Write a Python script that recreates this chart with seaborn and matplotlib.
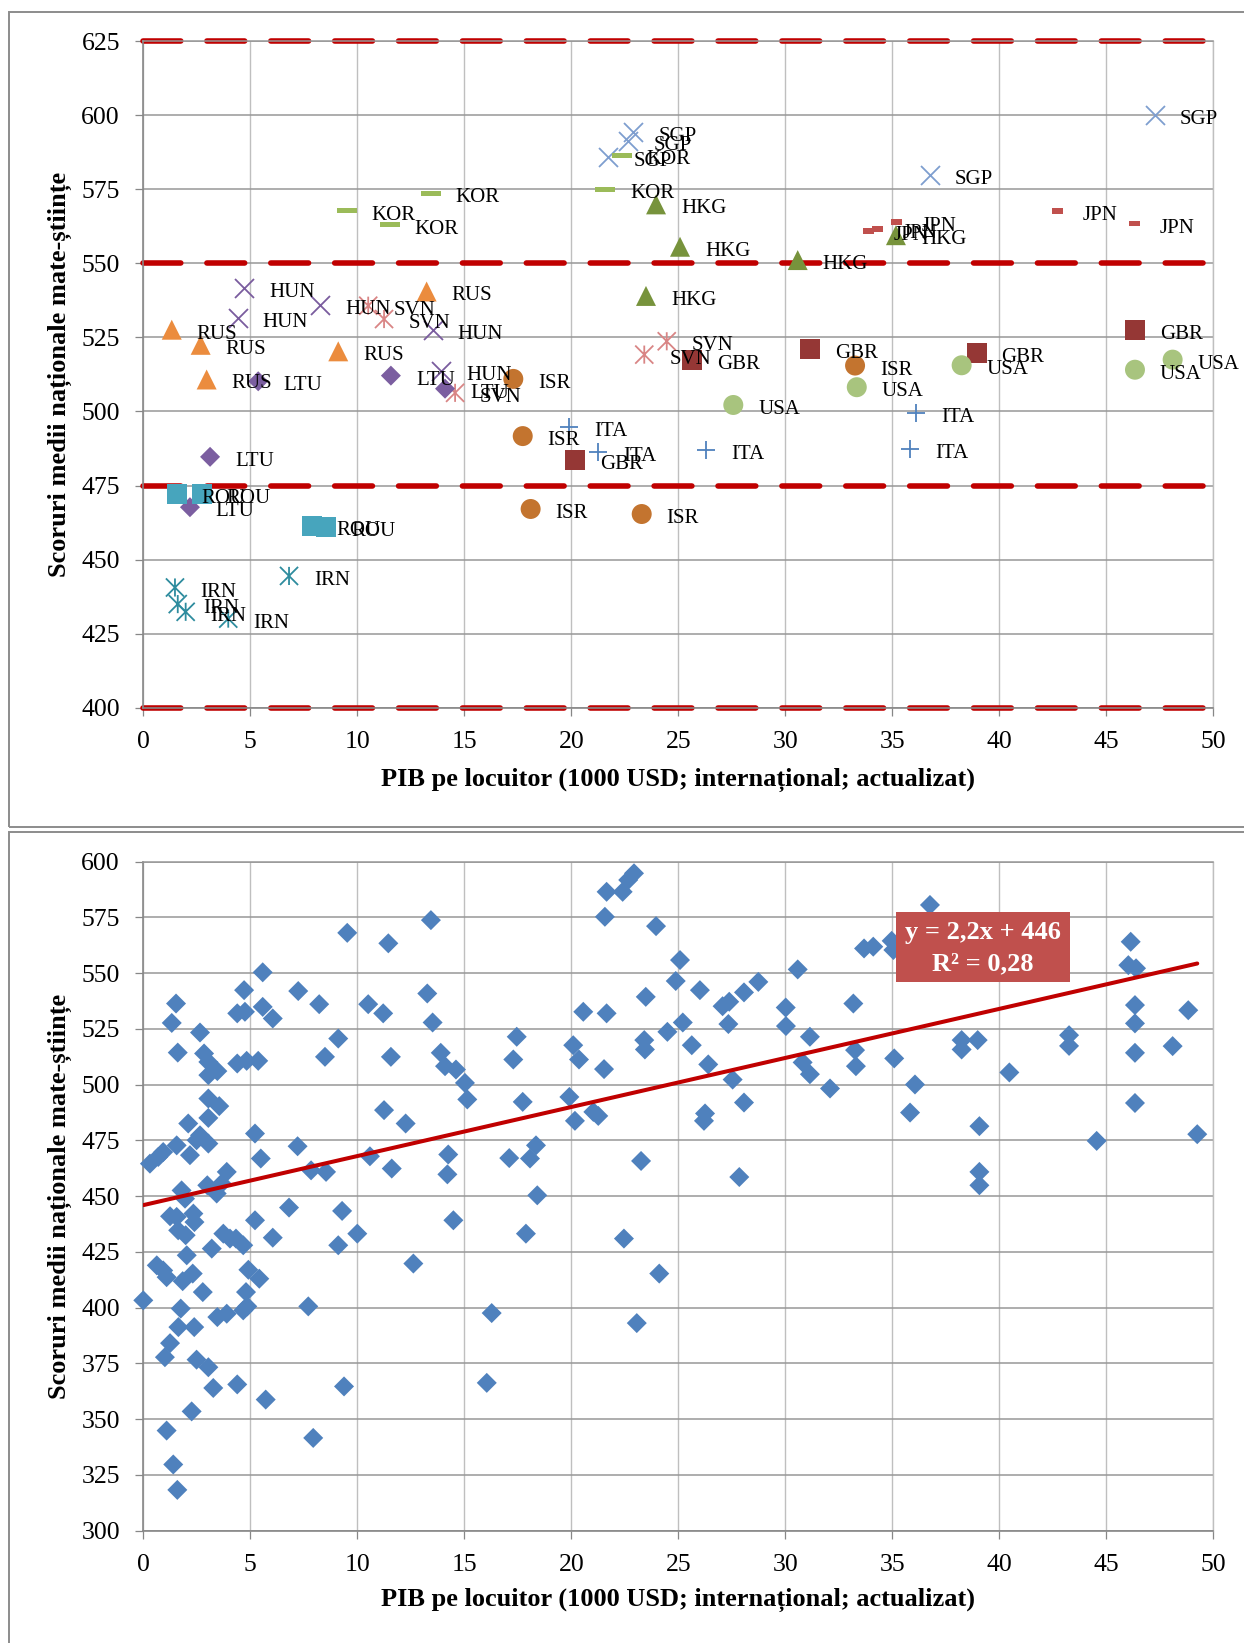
import numpy as np
import matplotlib
matplotlib.use("Agg")
import matplotlib.pyplot as plt
from matplotlib.path import Path
from matplotlib.markers import MarkerStyle
from matplotlib.patches import Rectangle
import seaborn as sns

# ---------------- DATA ----------------
x_ticks = [0, 5, 10, 15, 20, 25, 30, 35, 40, 45, 50]
top_y_ticks = [400, 425, 450, 475, 500, 525, 550, 575, 600, 625]
bottom_y_ticks = [300, 325, 350, 375, 400, 425, 450, 475, 500, 525, 550, 575, 600]
benchmark_levels = [625, 550, 475, 400]

x_label = "PIB pe locuitor (1000 USD; internațional; actualizat)"
y_label = "Scoruri medii naționale mate-științe"

HUN_x = [4.72, 4.41, 8.26, 13.52, 13.91]
HUN_y = [541.8, 531.5, 535.8, 527.6, 513.6]
SVN_x = [10.51, 11.25, 14.57, 23.41, 24.46]
SVN_y = [535.7, 531.2, 506.3, 519.2, 523.7]
RUS_x = [1.33, 2.68, 2.96, 9.11, 13.24]
RUS_y = [527.6, 522.5, 510.8, 520.3, 540.5]
LTU_x = [5.37, 11.57, 14.10, 3.12, 2.18]
LTU_y = [510.2, 512.1, 507.7, 484.7, 467.7]
ROU_x = [1.56, 2.73, 7.87, 8.54]
ROU_y = [472.1, 472.1, 461.3, 461.0]
IRN_x = [1.48, 1.61, 1.98, 3.97, 6.81]
IRN_y = [440.6, 435.0, 432.4, 430.1, 444.5]
SGP_x = [22.90, 22.66, 21.73, 36.76, 47.28]
SGP_y = [594.2, 591.4, 585.8, 579.7, 600.0]
KOR_x = [22.35, 21.57, 9.51, 11.52, 13.43]
KOR_y = [586.4, 575.0, 567.7, 563.1, 573.7]
HKG_x = [23.96, 25.08, 30.58, 23.49, 35.17]
HKG_y = [569.9, 555.6, 551.1, 539.0, 559.5]
JPN_x = [33.88, 34.30, 35.21, 42.73, 46.34]
JPN_y = [561.0, 561.6, 563.9, 567.6, 563.4]
GBR_x = [25.63, 31.15, 20.17, 38.94, 46.34]
GBR_y = [517.3, 521.1, 483.7, 519.8, 527.4]
ISR_x = [17.29, 17.73, 18.10, 23.29, 33.26]
ISR_y = [511.0, 491.7, 467.1, 465.4, 515.5]
USA_x = [27.57, 33.34, 38.24, 46.34, 48.10]
USA_y = [502.2, 508.2, 515.6, 514.1, 517.5]
ITA_x = [19.91, 21.26, 26.29, 36.11, 35.83]
ITA_y = [494.6, 486.2, 487.0, 499.6, 487.3]

all_x = [9.53, 11.45, 13.44, 5.58, 4.71, 1.53, 1.33, 2.65, 1.61, 2.84, 3.04, 3.46, 3.04,
         4.39, 4.75, 5.58, 6.05, 4.39, 4.83, 5.37, 7.24, 8.22, 9.11, 8.49, 10.51, 11.21,
         11.57, 13.27, 13.52, 13.90, 14.10, 14.61, 15.03, 15.14, 17.45, 17.29, 17.73, 3.04,
         3.55, 3.04, 2.10, 2.65, 1.56, 2.18, 0.93, 0.31, 0.70, 3.04, 2.49, 5.22, 5.49, 7.21,
         7.84, 8.54, 10.59, 11.61, 11.25, 12.26, 14.25, 14.21, 17.10, 18.07, 18.35, 18.41,
         14.49, 17.88, 1.79, 1.95, 2.99, 3.43, 3.90, 3.66, 5.22, 6.81, 9.29, 10.00, 9.11,
         6.05, 1.56, 2.34, 2.39, 1.63, 1.98, 3.74, 4.33, 4.67, 3.20, 1.25, 4.05,
         2.03, 0.63, 1.09, 1.84, 2.31, 0.93, 2.78, 0.0, 1.75, 1.64, 2.38, 1.25, 1.01, 2.49,
         3.04, 3.27, 4.39, 5.72, 2.26, 1.09, 1.40, 1.59, 7.94, 9.38, 16.05, 12.62, 7.71,
         16.28, 4.91, 5.42, 4.80, 3.46, 3.90, 4.67, 4.86,
         21.65, 22.40, 22.66, 22.93, 21.57, 23.96, 25.08, 24.88, 23.48, 26.01, 20.56, 21.65,
         27.07, 27.38, 28.07, 28.74, 27.34, 30.58, 30.02, 30.03, 31.15, 33.18, 33.68, 34.11,
         34.97, 35.05, 20.09, 20.36, 21.53, 23.41, 23.44, 24.49, 25.21, 25.63, 26.40, 27.54,
         30.81, 31.15, 32.09, 33.26, 33.30, 35.09, 19.91, 20.17, 21.03, 21.26, 26.25, 26.20,
         28.07, 23.26, 27.85, 22.46, 24.11, 23.06,
         36.76, 38.24, 38.24, 38.99, 36.06, 35.83, 40.47, 39.07, 39.07, 39.07, 43.26, 43.26,
         44.55, 46.14, 46.03, 46.39, 46.34, 46.34, 46.34, 46.34, 48.10, 48.83, 49.25]
all_y = [568.1, 563.4, 573.8, 550.4, 542.4, 536.4, 527.7, 523.4, 514.4, 514.0, 510.2, 506.1, 504.3,
         532.0, 532.7, 534.9, 529.7, 509.5, 510.7, 510.7, 542.0, 536.1, 520.7, 512.5, 536.1, 532.0,
         512.5, 540.9, 527.9, 514.3, 508.3, 506.8, 500.8, 493.4, 521.5, 511.3, 492.3, 493.8,
         490.4, 485.1, 482.6, 477.3, 472.8, 468.4, 469.8, 464.6, 467.6, 473.6, 475.1, 478.1, 466.9, 472.4,
         461.6, 460.9, 467.9, 462.4, 488.6, 482.6, 468.7, 459.8, 467.1, 466.9, 472.8, 450.4,
         439.2, 433.2, 452.6, 448.9, 454.9, 451.2, 460.9, 455.7, 439.2, 444.9, 443.4, 433.2, 428.0,
         431.4, 440.7, 442.2, 438.4, 434.7, 432.5, 433.2, 431.0, 428.0, 426.5, 441.0, 431.0,
         423.5, 419.0, 413.7, 411.9, 415.3, 416.7, 407.0, 403.3, 399.6, 391.3, 391.3, 384.1, 377.8, 376.7,
         373.3, 364.0, 365.6, 358.8, 353.5, 344.9, 329.7, 318.3, 341.6, 364.7, 366.3, 419.8, 400.6,
         397.6, 417.0, 413.0, 407.0, 395.8, 397.3, 398.8, 400.6,
         586.5, 586.5, 591.8, 594.8, 575.3, 571.1, 555.9, 546.5, 539.4, 542.4, 532.7, 532.0,
         535.2, 537.2, 541.4, 546.1, 527.2, 551.7, 534.6, 526.3, 521.5, 536.4, 561.1, 561.9,
         564.5, 560.4, 517.7, 511.3, 507.0, 520.0, 515.8, 523.7, 527.9, 517.7, 509.1, 502.3,
         510.0, 504.7, 498.3, 515.5, 508.3, 511.8, 494.5, 483.8, 487.8, 486.0, 487.1, 483.8,
         492.0, 465.8, 458.6, 431.0, 415.3, 393.1,
         580.6, 520.0, 515.8, 520.0, 500.1, 487.5, 505.5, 481.4, 460.9, 454.9, 522.2, 517.4,
         474.8, 564.1, 553.6, 552.2, 535.7, 527.5, 514.3, 491.8, 517.3, 533.4, 477.8]

trend_slope = 2.2
trend_intercept = 446
trend_eq = "y = 2,2x + 446"
trend_r2 = "R² = 0,28"

# ---------------- STYLE ----------------
sns.set_theme(style="white")
plt.rcParams['font.family'] = ['Liberation Serif', 'DejaVu Serif']

MOVETO, LINETO = Path.MOVETO, Path.LINETO
asterisk = MarkerStyle(Path([(-1, -1), (1, 1), (-1, 1), (1, -1), (0, -1), (0, 1)],
                            [MOVETO, LINETO, MOVETO, LINETO, MOVETO, LINETO]), fillstyle='none')
long_dash = Path([(-1, -0.25), (1, -0.25), (1, 0.25), (-1, 0.25), (-1, -0.25)],
                 [MOVETO, LINETO, LINETO, LINETO, Path.CLOSEPOLY])
short_dash = Path([(-1, -0.5), (1, -0.5), (1, 0.5), (-1, 0.5), (-1, -0.5)],
                  [MOVETO, LINETO, LINETO, LINETO, Path.CLOSEPOLY])

line_kw = dict(linewidth=1.3)
fill_kw = dict(linewidth=0, edgecolor='none')
series = [
    ("HUN", HUN_x, HUN_y, dict(marker='x', color='#7A5C9E', s=187, **line_kw)),
    ("SVN", SVN_x, SVN_y, dict(marker=asterisk, color='#D98585', s=170, **line_kw)),
    ("RUS", RUS_x, RUS_y, dict(marker='^', color='#EB8C3E', s=207, **fill_kw)),
    ("LTU", LTU_x, LTU_y, dict(marker='D', color='#7B5EA0', s=104, **fill_kw)),
    ("ROU", ROU_x, ROU_y, dict(marker='s', color='#47A5BD', s=207, **fill_kw)),
    ("IRN", IRN_x, IRN_y, dict(marker=asterisk, color='#2E8C9E', s=170, **line_kw)),
    ("SGP", SGP_x, SGP_y, dict(marker='x', color='#7E9ECF', s=187, **line_kw)),
    ("KOR", KOR_x, KOR_y, dict(marker=long_dash, color='#9BBB59', s=207, **fill_kw)),
    ("HKG", HKG_x, HKG_y, dict(marker='^', color='#77933C', s=207, **fill_kw)),
    ("JPN", JPN_x, JPN_y, dict(marker=short_dash, color='#C0504D', s=63, **fill_kw)),
    ("GBR", GBR_x, GBR_y, dict(marker='s', color='#953735', s=207, **fill_kw)),
    ("ISR", ISR_x, ISR_y, dict(marker='o', color='#C3742F', s=207, **fill_kw)),
    ("USA", USA_x, USA_y, dict(marker='o', color='#A8C47E', s=207, **fill_kw)),
    ("ITA", ITA_x, ITA_y, dict(marker='+', color='#4F81BD', s=170, **line_kw)),
]

fig = plt.figure(figsize=(12.44, 16.43), dpi=100)
ax1 = fig.add_axes([0.11519, 0.56920, 0.86013, 0.40578])
ax2 = fig.add_axes([0.11519, 0.06835, 0.86013, 0.40718])

HGRID = '#979797'
VGRID = '#BFBFBF'
AXC = '#878787'


def style_axes(ax, ylim, yticks, xlab_y):
    ax.set_xlim(0, 50)
    ax.set_ylim(*ylim)
    ax.set_xticks(x_ticks)
    ax.set_yticks(yticks)
    ax.set_axisbelow(True)
    ax.xaxis.grid(True, color=VGRID, linewidth=1.0)
    ax.yaxis.grid(True, color=HGRID, linewidth=1.1)
    ax.spines['left'].set_color(AXC)
    ax.spines['bottom'].set_color(AXC)
    ax.spines['left'].set_linewidth(1.2)
    ax.spines['bottom'].set_linewidth(1.2)
    ax.spines['top'].set_color(HGRID)
    ax.spines['top'].set_linewidth(1.1)
    ax.spines['right'].set_color(VGRID)
    ax.spines['right'].set_linewidth(1.0)
    ax.tick_params(axis='both', which='major', bottom=True, left=True, direction='out',
                   length=5.8, width=0.9, color=AXC, labelsize=18.5, labelcolor='black')
    ax.tick_params(axis='y', pad=11)
    ax.tick_params(axis='x', pad=11)
    ax.set_xlabel(x_label, fontsize=19, fontweight='bold', color='black')
    ax.set_ylabel(y_label, fontsize=19, fontweight='bold', color='black')
    ax.xaxis.label.set_va('center')
    ax.yaxis.label.set_va('center')
    ax.xaxis.set_label_coords(0.5, xlab_y)
    ax.yaxis.set_label_coords(-0.0781, 0.5)


style_axes(ax1, (400, 625), top_y_ticks, -0.1078)
style_axes(ax2, (300, 600), bottom_y_ticks, -0.104)

# benchmark dashed lines (top chart)
for lvl in benchmark_levels:
    ax1.axhline(lvl, color='#C00000', linewidth=4.0, dashes=(6.8, 4.7),
                dash_capstyle='round', clip_on=False, zorder=2)

# country series (top chart)
for code, xs, ys, st in series:
    sns.scatterplot(x=xs, y=ys, ax=ax1, zorder=3, clip_on=False, legend=False, **st)
    for xv, yv in zip(xs, ys):
        ax1.annotate(code, (xv, yv), xytext=(25, -9), textcoords='offset pixels',
                     ha='left', va='baseline', fontsize=15, color='black',
                     zorder=4, annotation_clip=False)

# bottom chart scatter + trend
sns.scatterplot(x=all_x, y=all_y, ax=ax2, marker='D', color='#4F81BD', s=104,
                linewidth=0, edgecolor='none', zorder=3, clip_on=False, legend=False)
tx = np.array([min(all_x), max(all_x)])
sns.lineplot(x=tx, y=trend_slope * tx + trend_intercept, ax=ax2, color='#C00000',
             linewidth=2.9, zorder=4, solid_capstyle='round')

ax2.add_patch(Rectangle((0.7034, 0.8206), 0.1627, 0.1042, transform=ax2.transAxes,
                        facecolor='#C0504D', edgecolor='none', zorder=5, clip_on=False))
ax2.text(0.7848, 0.8939, trend_eq, transform=ax2.transAxes, ha='center', va='center',
         fontsize=19, fontweight='bold', color='white', zorder=6)
ax2.text(0.7848, 0.8481, trend_r2, transform=ax2.transAxes, ha='center', va='center',
         fontsize=19, fontweight='bold', color='white', zorder=6)

# outer chart frames
W, H = 1244.0, 1643.0
fig.add_artist(Rectangle((9 / W, 1 - 827 / H), (1260 - 9) / W, (827 - 12) / H,
                         transform=fig.transFigure, fill=False, edgecolor='#8C8C8C', linewidth=1.4))
fig.add_artist(Rectangle((9 / W, -20 / H), (1260 - 9) / W, (1643 + 20 - 832) / H,
                         transform=fig.transFigure, fill=False, edgecolor='#8C8C8C', linewidth=1.4))

fig.savefig("out.png", dpi=100, facecolor='white')
